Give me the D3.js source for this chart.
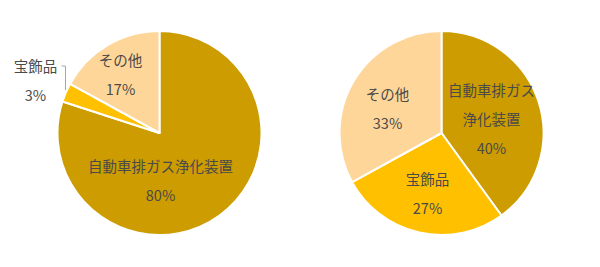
<!DOCTYPE html>
<html><head><meta charset="utf-8">
<script src="https://cdn.jsdelivr.net/npm/d3@7"></script>
<style>body{margin:0;background:#fff}svg{display:block}text{font-family:"Noto Sans CJK JP","Noto Sans",sans-serif;fill:#4a4a4a}</style>
</head><body><svg id="c" width="600" height="267"></svg>
<script>
const categories = ["自動車排ガス浄化装置", "宝飾品", "その他"];
const leftValues = [80, 3, 17];
const rightValues = [40, 27, 33];
const colors = ["#CC9C00", "#FFC000", "#FFD699"];

const svg = d3.select("#c");
const R = 102;
const pie = d3.pie().sort(null).value(d => d.v);
const arc = d3.arc().innerRadius(0).outerRadius(R);
const color = d3.scaleOrdinal().domain(categories).range(colors);

function drawPie(cx, cy, values, labels) {
  const g = svg.append("g").attr("transform", `translate(${cx},${cy})`);
  const data = pie(categories.map((c, i) => ({c, v: values[i]})));
  g.selectAll("path").data(data).join("path")
    .attr("d", arc).attr("fill", d => color(d.data.c))
    .attr("stroke", "#fff").attr("stroke-width", 2).attr("stroke-linejoin", "round");
  labels.forEach(l => {
    l.lines.forEach((t, j) => {
      g.append("text").attr("x", l.x).attr("y", l.y + j * 29)
        .attr("text-anchor", "middle").attr("dominant-baseline", "central")
        .attr("font-size", 14.5).text(t);
    });
  });
  return g;
}

const gl = drawPie(159.5, 133, leftValues, [
  {x: 1, y: 32, lines: [categories[0], leftValues[0] + "%"]},
  {x: -39, y: -74, lines: [categories[2], leftValues[2] + "%"]},
  {x: -124, y: -68, lines: [categories[1], leftValues[1] + "%"]}
]);
gl.append("path").attr("d", "M-98,-67 H-94 V-43").attr("fill", "none")
  .attr("stroke", "#a6a6a6").attr("stroke-width", 1);

drawPie(441.5, 133, rightValues, [
  {x: 50, y: -44, lines: ["自動車排ガス", "浄化装置", rightValues[0] + "%"]},
  {x: -14, y: 45, lines: [categories[1], rightValues[1] + "%"]},
  {x: -54, y: -40, lines: [categories[2], rightValues[2] + "%"]}
]);
</script></body></html>
